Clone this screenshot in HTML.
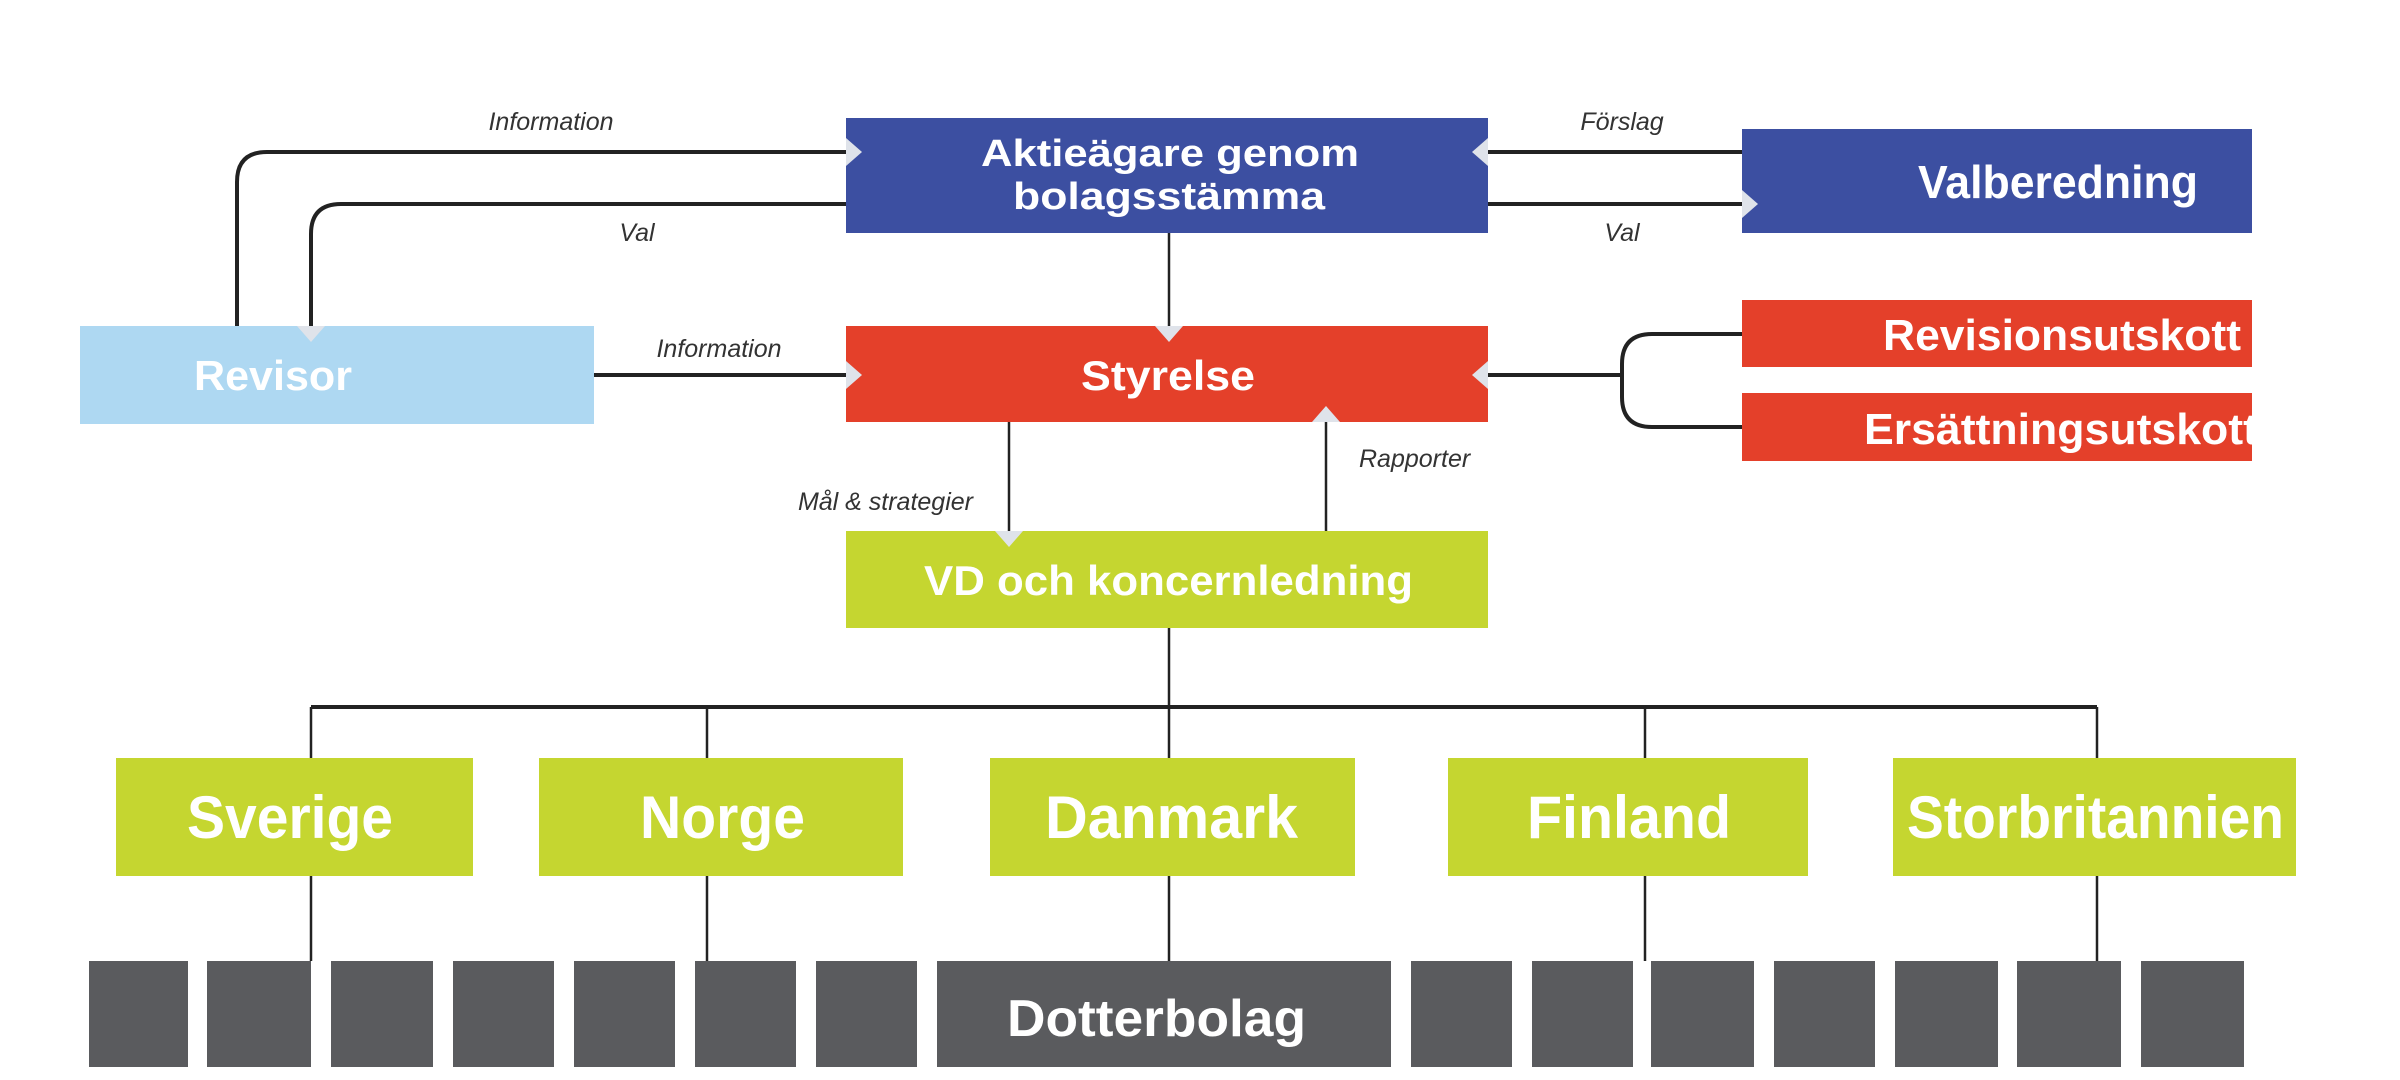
<!DOCTYPE html>
<html><head><meta charset="utf-8"><style>
html,body{margin:0;padding:0;background:#fff;}
svg{display:block;}
.b{font-family:"Liberation Sans",sans-serif;font-weight:bold;fill:#fff;}
.l{font-family:"Liberation Sans",sans-serif;font-style:italic;fill:#333;font-size:25px;}
</style></head><body>
<svg width="2400" height="1080" viewBox="0 0 2400 1080" xmlns="http://www.w3.org/2000/svg">
<rect width="2400" height="1080" fill="#fff"/>
<g fill="none" stroke="#222" stroke-width="4">
<path d="M237 326 V182 Q237 152 267 152 H846"/>
<path d="M846 204 H341 Q311 204 311 234 V326"/>
<path d="M1488 152 H1742"/>
<path d="M1488 204 H1742"/>
<path d="M594 375 H846"/>
<path d="M1488 375 H1622"/>
<path d="M1742 334 H1652 Q1622 334 1622 364 V397 Q1622 427 1652 427 H1742"/>
<path d="M311 707 H2097"/>
</g>
<g stroke="#222" stroke-width="2.5">
<line x1="1169" y1="233" x2="1169" y2="326"/>
<line x1="1009" y1="422" x2="1009" y2="531"/>
<line x1="1326" y1="422" x2="1326" y2="531"/>
<line x1="1169" y1="628" x2="1169" y2="758"/>
<line x1="311" y1="707" x2="311" y2="758"/><line x1="707" y1="707" x2="707" y2="758"/><line x1="1645" y1="707" x2="1645" y2="758"/><line x1="2097" y1="707" x2="2097" y2="758"/>
<line x1="311" y1="876" x2="311" y2="961"/><line x1="707" y1="876" x2="707" y2="961"/><line x1="1169" y1="876" x2="1169" y2="961"/><line x1="1645" y1="876" x2="1645" y2="961"/><line x1="2097" y1="876" x2="2097" y2="961"/>
</g>
<rect x="846" y="118" width="642" height="115" fill="#3c4fa1"/>
<rect x="1742" y="129" width="510" height="104" fill="#3c4fa1"/>
<rect x="80" y="326" width="514" height="98" fill="#aed8f2"/>
<rect x="846" y="326" width="642" height="96" fill="#e4402a"/>
<rect x="1742" y="300" width="510" height="67" fill="#e4402a"/>
<rect x="1742" y="393" width="510" height="68" fill="#e4402a"/>
<rect x="846" y="531" width="642" height="97" fill="#c5d630"/>
<g fill="#c5d630">
<rect x="116" y="758" width="357" height="118"/><rect x="539" y="758" width="364" height="118"/><rect x="990" y="758" width="365" height="118"/><rect x="1448" y="758" width="360" height="118"/><rect x="1893" y="758" width="403" height="118"/>
</g>
<g fill="#5a5b5e">
<rect x="89" y="961" width="99" height="106"/><rect x="207" y="961" width="104" height="106"/><rect x="331" y="961" width="102" height="106"/><rect x="453" y="961" width="101" height="106"/><rect x="574" y="961" width="101" height="106"/><rect x="695" y="961" width="101" height="106"/><rect x="816" y="961" width="101" height="106"/><rect x="937" y="961" width="454" height="106"/><rect x="1411" y="961" width="101" height="106"/><rect x="1532" y="961" width="101" height="106"/><rect x="1651" y="961" width="103" height="106"/><rect x="1774" y="961" width="101" height="106"/><rect x="1895" y="961" width="103" height="106"/><rect x="2017" y="961" width="104" height="106"/><rect x="2141" y="961" width="103" height="106"/>
</g>
<g fill="#dfe3ea">
<polygon points="846,138 862,152 846,166"/>
<polygon points="1488,138 1472,152 1488,166"/>
<polygon points="1742,190 1758,204 1742,218"/>
<polygon points="846,361 862,375 846,389"/>
<polygon points="1488,361 1472,375 1488,389"/>
<polygon points="1155,326 1169,342 1183,326"/>
<polygon points="1312,422 1326,406 1340,422"/>
<polygon points="297,326 311,342 325,326"/>
<polygon points="995,531 1009,547 1023,531"/>
</g>
<g class="b">
<text font-size="38" x="981" y="166" textLength="378" lengthAdjust="spacingAndGlyphs">Aktieägare genom</text>
<text font-size="38" x="1013" y="209" textLength="312" lengthAdjust="spacingAndGlyphs">bolagsstämma</text>
<text font-size="46" x="1918" y="198" textLength="280" lengthAdjust="spacingAndGlyphs">Valberedning</text>
<text font-size="42" x="194" y="390" textLength="158" lengthAdjust="spacingAndGlyphs">Revisor</text>
<text font-size="42" x="1081" y="390" textLength="174" lengthAdjust="spacingAndGlyphs">Styrelse</text>
<text font-size="44" x="1883" y="350" textLength="358" lengthAdjust="spacingAndGlyphs">Revisionsutskott</text>
<text font-size="44" x="1864" y="444" textLength="394" lengthAdjust="spacingAndGlyphs">Ersättningsutskott</text>
<text font-size="42" x="924" y="595" textLength="489" lengthAdjust="spacingAndGlyphs">VD och koncernledning</text>
<text font-size="60" x="187" y="838" textLength="206" lengthAdjust="spacingAndGlyphs">Sverige</text>
<text font-size="60" x="640" y="838" textLength="165" lengthAdjust="spacingAndGlyphs">Norge</text>
<text font-size="60" x="1045" y="838" textLength="253" lengthAdjust="spacingAndGlyphs">Danmark</text>
<text font-size="60" x="1527" y="838" textLength="204" lengthAdjust="spacingAndGlyphs">Finland</text>
<text font-size="60" x="1907" y="838" textLength="377" lengthAdjust="spacingAndGlyphs">Storbritannien</text>
<text font-size="52" x="1007" y="1036" textLength="299" lengthAdjust="spacingAndGlyphs">Dotterbolag</text>
</g>
<text class="l" x="551" y="130" text-anchor="middle">Information</text>
<text class="l" x="637" y="241" text-anchor="middle">Val</text>
<text class="l" x="1622" y="130" text-anchor="middle">Förslag</text>
<text class="l" x="1622" y="241" text-anchor="middle">Val</text>
<text class="l" x="719" y="357" text-anchor="middle">Information</text>
<text class="l" x="973" y="510" text-anchor="end">Mål &amp; strategier</text>
<text class="l" x="1359" y="467">Rapporter</text>
</svg>
</body></html>
